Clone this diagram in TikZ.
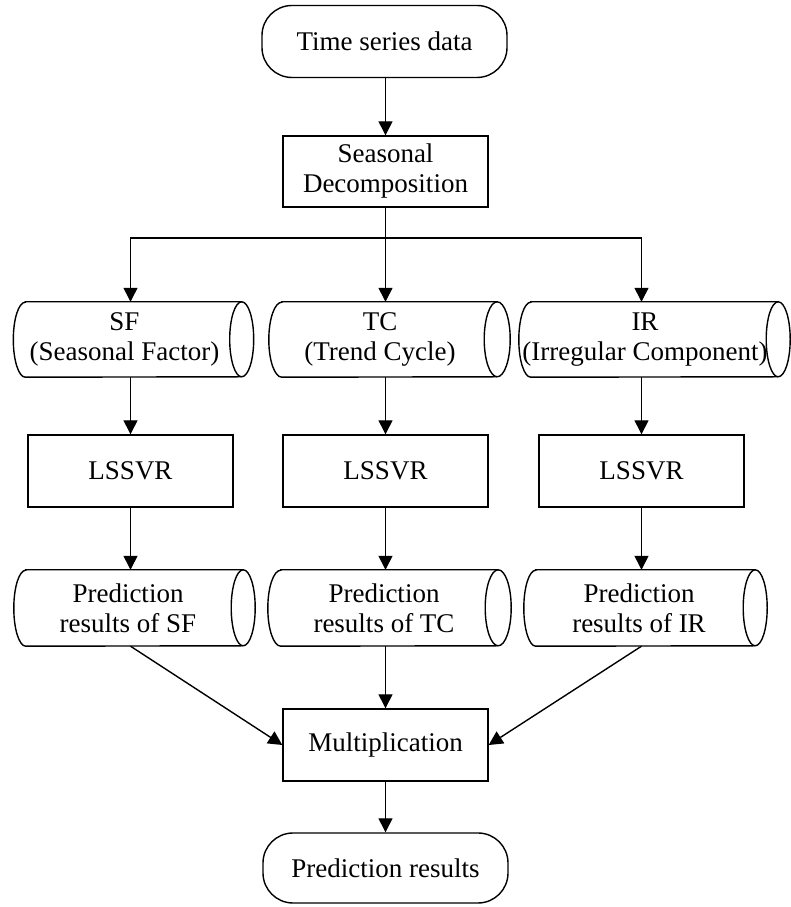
\documentclass[tikz,border=0pt]{standalone}
\usepackage{fontspec}
\setmainfont{Liberation Serif}
\usetikzlibrary{arrows.meta}
\newcommand\drawcyl[4]{%
  \draw[cylline] ([xshift=#2]#1.north west) -- ([xshift=#2]#1.north east)
    arc[start angle=90,end angle=-90,x radius=#3,y radius=#4]
    -- ([xshift=#2]#1.south west)
    arc[start angle=270,end angle=90,x radius=#3,y radius=#4] -- cycle;
  \draw[cylline] ([xshift=#2]#1.north east)
    arc[start angle=90,end angle=270,x radius=#3,y radius=#4];
}
\begin{document}
\begin{tikzpicture}[x=1pt,y=1pt,
  every node/.style={font=\fontsize{27}{30}\selectfont, align=center, inner sep=0pt},
  term/.style={draw, line width=1.4pt, rounded corners=30pt, minimum width=245pt, minimum height=72pt},
  procbox/.style={draw, line width=1.4pt, minimum width=205pt, minimum height=72pt},
  cylone/.style={minimum height=75pt},
  cyltwo/.style={minimum height=76pt},
  cylline/.style={line width=1.4pt},
  ln/.style={line width=1.4pt},
  arr/.style={line width=1.4pt, -{Triangle[length=14pt,width=14pt]}}
]
\useasboundingbox (0,0) rectangle (791,907);

\node[term] (start) at (384.5,865.5) {Time series data};
\node[procbox, minimum height=71pt] (decomp) at (385.5,735.5) {Seasonal\\Decomposition};

\node[cylone, minimum width=216pt] (sf) at (124.5,567.5) {SF\\(Seasonal Factor)};
\node[cylone, minimum width=215pt] (tc) at (380,567.5) {TC\\(Trend Cycle)};
\node[cylone, minimum width=247pt] (ir) at (645,567.5) {IR\\(Irregular Component)};

\node[procbox] (l1) at (130.5,436) {LSSVR};
\node[procbox] (l2) at (385.5,436) {LSSVR};
\node[procbox] (l3) at (641.5,436) {LSSVR};

\node[cyltwo, minimum width=217pt] (p1) at (128,299) {Prediction\\results of SF};
\node[cyltwo, minimum width=217pt] (p2) at (384,299) {Prediction\\results of TC};
\node[cyltwo, minimum width=219pt] (p3) at (639,299) {Prediction\\results of IR};

\node[procbox] (mult) at (385.5,162) {Multiplication};
\node[term, minimum height=70pt] (end) at (385.5,39) {Prediction results};

\drawcyl{sf}{9pt}{12pt}{37.5pt}
\drawcyl{tc}{9.5pt}{13pt}{37.5pt}
\drawcyl{ir}{9.5pt}{12pt}{37.5pt}
\drawcyl{p1}{6.5pt}{12pt}{38pt}
\drawcyl{p2}{5.5pt}{13pt}{38pt}
\drawcyl{p3}{6.5pt}{12pt}{38pt}

\coordinate (br) at (385.5,669);
\draw[arr] (start.south -| decomp.north) -- (decomp.north);
\draw[ln] (decomp.south) -- (br);
\draw[arr] (br) -| (l1 |- sf.north);
\draw[arr] (br) -- (l2 |- tc.north);
\draw[arr] (br) -| (l3 |- ir.north);

\draw[arr] (l1 |- sf.south) -- (l1.north);
\draw[arr] (l2 |- tc.south) -- (l2.north);
\draw[arr] (l3 |- ir.south) -- (l3.north);

\draw[arr] (l1.south) -- (l1 |- p1.north);
\draw[arr] (l2.south) -- (l2 |- p2.north);
\draw[arr] (l3.south) -- (l3 |- p3.north);

\draw[arr] (l1 |- p1.south) -- (mult.west);
\draw[arr] (l2 |- p2.south) -- (mult.north);
\draw[arr] (l3 |- p3.south) -- (mult.east);
\draw[arr] (mult.south) -- (end.north);
\end{tikzpicture}
\end{document}
